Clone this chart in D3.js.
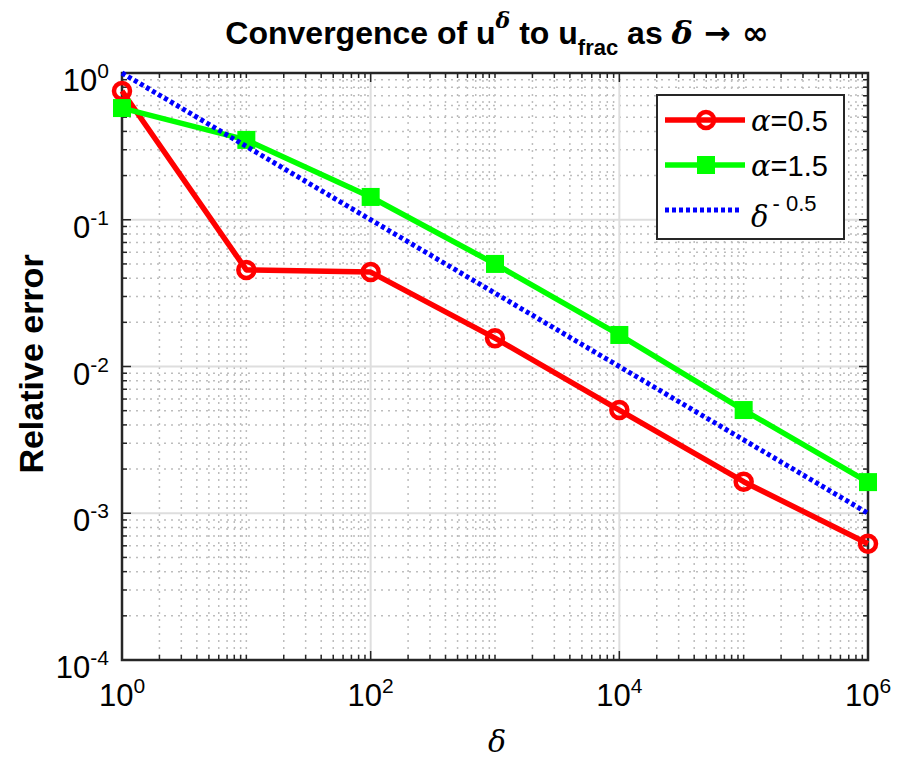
<!DOCTYPE html>
<meta charset="utf-8">
<style>
  body { margin: 0; background: #fff; }
  text { font-family: "Liberation Sans", Arial, sans-serif; fill: #000; }
</style>
<body>
<div id="chart"></div>
<script src="https://d3js.org/d3.v7.min.js"></script>
<script>
// values
var deltas = [1, 10, 100, 1000, 10000, 100000, 1000000];
var errAlpha05 = [0.754, 0.0455, 0.044, 0.0156, 0.00505, 0.00164, 0.00062];
var errAlpha15 = [0.577, 0.35, 0.143, 0.050, 0.0164, 0.00505, 0.00163];
var refRate = [1, 0.3162, 0.1, 0.03162, 0.01, 0.003162, 0.001];

var xTickExps = [0, 2, 4, 6];
var yTickExps = [0, -1, -2, -3, -4];
var yTickBases = ["10", "0", "0", "0", "10"];   // the "1" is hidden in the original
var legendLabels = ["=0.5", "=1.5", "- 0.5"];

var width = 897,
    height = 760;

var svg = d3.select("#chart").append("svg")
    .attr("width", width)
    .attr("height", height);

var x = d3.scaleLog().domain([1, 1e6]).range([122, 868]);
var y = d3.scaleLog().domain([1e-4, 1]).range([660, 73]);

var x0 = x.range()[0], x1 = x.range()[1];
var y0 = y.range()[1], y1 = y.range()[0];

// minor positions: every k*10^e, skipping the labelled decades
var xMinor = [];
for (var e = 0; e < 6; e++) {
  for (var k = 1; k <= 9; k++) {
    if (k == 1 && e % 2 == 0) continue;
    xMinor.push(k * Math.pow(10, e));
  }
}
var yMinor = [];
for (var e = -4; e < 0; e++) {
  for (var k = 2; k <= 9; k++) yMinor.push(k * Math.pow(10, e));
}
var xMajor = xTickExps.map(function(d) { return Math.pow(10, d); });
var yMajor = yTickExps.map(function(d) { return Math.pow(10, d); });

// grid
var grid = svg.append("g");
grid.selectAll(".xminor").data(xMinor).enter().append("line")
    .attr("x1", function(d) { return x(d); }).attr("x2", function(d) { return x(d); })
    .attr("y1", y0).attr("y2", y1)
    .attr("stroke", "#bdbdbd").attr("stroke-width", 1.5).attr("stroke-dasharray", "2,5");
grid.selectAll(".yminor").data(yMinor).enter().append("line")
    .attr("y1", function(d) { return y(d); }).attr("y2", function(d) { return y(d); })
    .attr("x1", x0).attr("x2", x1)
    .attr("stroke", "#bdbdbd").attr("stroke-width", 1.5).attr("stroke-dasharray", "2,5");
grid.selectAll(".xmajor").data(xMajor).enter().append("line")
    .attr("x1", function(d) { return x(d); }).attr("x2", function(d) { return x(d); })
    .attr("y1", y0).attr("y2", y1)
    .attr("stroke", "#dedede").attr("stroke-width", 2);
grid.selectAll(".ymajor").data(yMajor).enter().append("line")
    .attr("y1", function(d) { return y(d); }).attr("y2", function(d) { return y(d); })
    .attr("x1", x0).attr("x2", x1)
    .attr("stroke", "#dedede").attr("stroke-width", 2);

// ticks on all four sides, pointing in
var ticks = svg.append("g").attr("stroke", "#262626").attr("stroke-width", 1.5);
function xTicks(vals, len) {
  vals.forEach(function(d) {
    ticks.append("line").attr("x1", x(d)).attr("x2", x(d)).attr("y1", y1).attr("y2", y1 - len);
    ticks.append("line").attr("x1", x(d)).attr("x2", x(d)).attr("y1", y0).attr("y2", y0 + len);
  });
}
function yTicks(vals, len) {
  vals.forEach(function(d) {
    ticks.append("line").attr("y1", y(d)).attr("y2", y(d)).attr("x1", x0).attr("x2", x0 + len);
    ticks.append("line").attr("y1", y(d)).attr("y2", y(d)).attr("x1", x1).attr("x2", x1 - len);
  });
}
xTicks(xMinor, 5); xTicks(xMajor, 9);
yTicks(yMinor, 5); yTicks(yMajor, 9);

svg.append("rect")
    .attr("x", x0).attr("y", y0).attr("width", x1 - x0).attr("height", y1 - y0)
    .attr("fill", "none").attr("stroke", "#262626").attr("stroke-width", 2.5);

// tick labels
svg.selectAll(".xlab").data(xTickExps).enter().append("text")
    .attr("x", function(d) { return x(Math.pow(10, d)); })
    .attr("y", 706)
    .attr("text-anchor", "middle")
    .style("font-size", "31px")
    .each(function(d) {
      var t = d3.select(this);
      t.append("tspan").text("10");
      t.append("tspan").attr("dy", -13).style("font-size", "21px").text(d);
    });

svg.selectAll(".ylab").data(yTickExps).enter().append("text")
    .attr("x", 109)
    .attr("y", function(d) { return y(Math.pow(10, d)) + 18; })
    .attr("text-anchor", "end")
    .style("font-size", "31px")
    .each(function(d, i) {
      var t = d3.select(this);
      t.append("tspan").text(yTickBases[i]);
      t.append("tspan").attr("dy", -13).style("font-size", "21px").text(d == 0 ? "0" : "-" + Math.abs(d));
    });

// series
var line = d3.line()
    .x(function(d) { return x(d[0]); })
    .y(function(d) { return y(d[1]); });

var red = d3.zip(deltas, errAlpha05),
    green = d3.zip(deltas, errAlpha15),
    blue = d3.zip(deltas, refRate);

svg.append("path").datum(red).attr("d", line)
    .attr("fill", "none").attr("stroke", "#ff0000").attr("stroke-width", 5.5).attr("stroke-linejoin", "round");
svg.selectAll(".circ").data(red).enter().append("circle")
    .attr("cx", function(d) { return x(d[0]); }).attr("cy", function(d) { return y(d[1]); })
    .attr("r", 8).attr("fill", "none").attr("stroke", "#ff0000").attr("stroke-width", 4.5);

svg.append("path").datum(green).attr("d", line)
    .attr("fill", "none").attr("stroke", "#00ff00").attr("stroke-width", 5.5).attr("stroke-linejoin", "round");
svg.selectAll(".sq").data(green).enter().append("rect")
    .attr("x", function(d) { return x(d[0]) - 9; }).attr("y", function(d) { return y(d[1]) - 9; })
    .attr("width", 18).attr("height", 18).attr("fill", "#00ff00");

svg.append("path").datum(blue).attr("d", line)
    .attr("fill", "none").attr("stroke", "#0000ff").attr("stroke-width", 5).attr("stroke-dasharray", "4,3");

// legend
var lg = svg.append("g");
lg.append("rect").attr("x", 657).attr("y", 95).attr("width", 187).attr("height", 144)
    .attr("fill", "#fff").attr("stroke", "#262626").attr("stroke-width", 2);
var rows = [120, 165, 210];
lg.append("line").attr("x1", 665).attr("x2", 745).attr("y1", rows[0]).attr("y2", rows[0])
    .attr("stroke", "#ff0000").attr("stroke-width", 5.5);
lg.append("circle").attr("cx", 706).attr("cy", rows[0]).attr("r", 8)
    .attr("fill", "none").attr("stroke", "#ff0000").attr("stroke-width", 4.5);
lg.append("line").attr("x1", 665).attr("x2", 745).attr("y1", rows[1]).attr("y2", rows[1])
    .attr("stroke", "#00ff00").attr("stroke-width", 5.5);
lg.append("rect").attr("x", 697).attr("y", rows[1] - 9).attr("width", 18).attr("height", 18)
    .attr("fill", "#00ff00");
lg.append("line").attr("x1", 665).attr("x2", 741).attr("y1", rows[2]).attr("y2", rows[2])
    .attr("stroke", "#0000ff").attr("stroke-width", 5).attr("stroke-dasharray", "4,3");

[0, 1].forEach(function(i) {
  var t = lg.append("text").attr("x", 751).attr("y", rows[i] + 11).style("font-size", "29px");
  t.append("tspan").style("font-style", "italic").style("font-family", "'DejaVu Serif', serif").text("\u03b1");
  t.append("tspan").text(legendLabels[i]);
});
var tl = lg.append("text").attr("x", 751).attr("y", rows[2] + 17).style("font-size", "29px");
tl.append("tspan").style("font-style", "italic").style("font-family", "'DejaVu Serif', serif").text("\u03b4");
tl.append("tspan").attr("dx", 4).attr("dy", -16).style("font-size", "22px").text(legendLabels[2]);

// title
var title = svg.append("text")
    .attr("x", 497).attr("y", 44)
    .attr("text-anchor", "middle")
    .style("font-size", "32px").style("font-weight", "bold");
title.append("tspan").text("Convergence of u");
title.append("tspan").attr("dy", -16).style("font-size", "22px").style("font-style", "italic")
    .style("font-family", "'DejaVu Serif', serif").text("\u03b4");
title.append("tspan").attr("dy", 16).text(" to u");
title.append("tspan").attr("dy", 11).style("font-size", "22px").text("frac");
title.append("tspan").attr("dy", -11).text(" as ");
title.append("tspan").style("font-style", "italic").style("font-family", "'DejaVu Serif', serif").text("\u03b4");
title.append("tspan").style("font-family", "'DejaVu Sans', sans-serif").text(" \u2192 \u221e");

// axis labels
svg.append("text")
    .attr("x", 497).attr("y", 752)
    .attr("text-anchor", "middle")
    .style("font-size", "30px").style("font-style", "italic")
    .style("font-family", "'DejaVu Serif', serif")
    .text("\u03b4");

svg.append("text")
    .attr("transform", "translate(43,364) rotate(-90)")
    .attr("text-anchor", "middle")
    .style("font-size", "34px").style("font-weight", "bold")
    .text("Relative error");
</script>
</body>
